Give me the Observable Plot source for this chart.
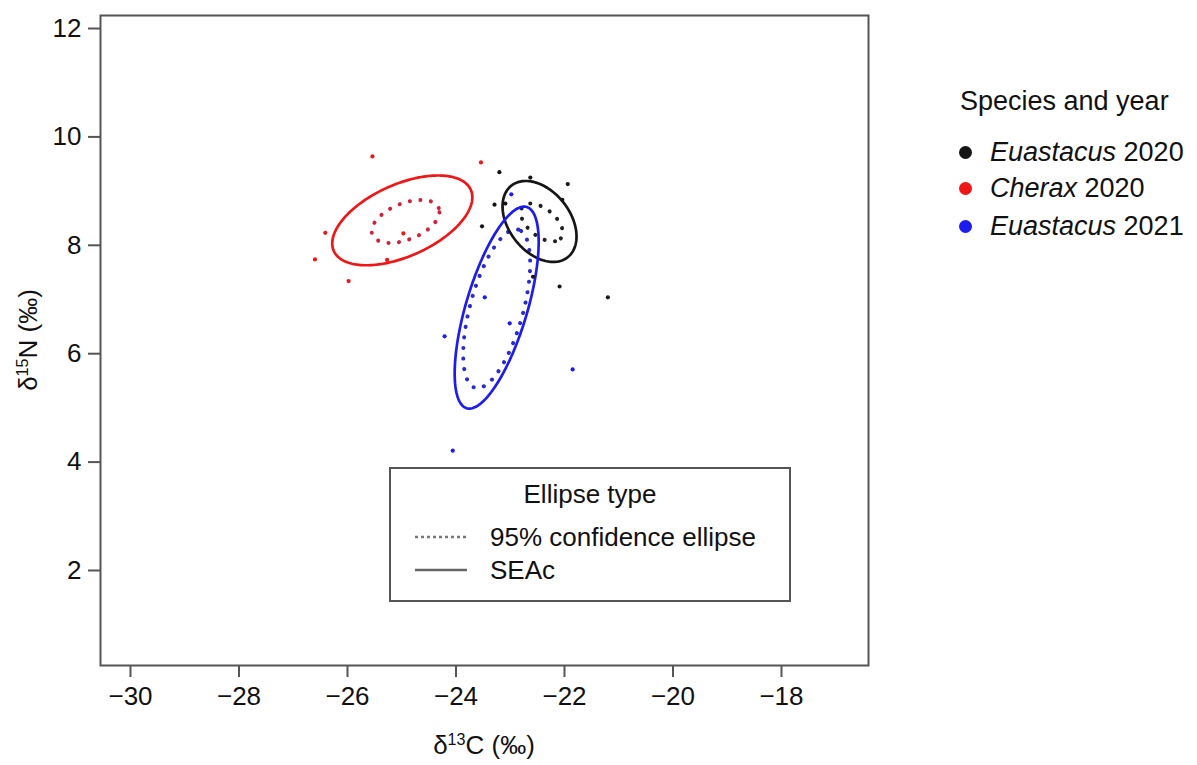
<!DOCTYPE html>
<html><head><meta charset="utf-8">
<script src="https://cdn.jsdelivr.net/npm/d3@7"></script>
<script src="https://cdn.jsdelivr.net/npm/@observablehq/plot@0.6"></script>
<style>
body{margin:0;background:#fff;font-family:"Liberation Sans",Arial,sans-serif;color:#111;}
#wrap{position:relative;width:1197px;height:765px;overflow:hidden;}
.abs{position:absolute;white-space:nowrap;line-height:1;}
.lab{font-size:26px;}
.leg{font-size:27px;}
.sw{position:absolute;width:13px;height:13px;border-radius:50%;}
#box{position:absolute;left:389px;top:467px;width:402px;height:135px;border:2px solid #555;box-sizing:border-box;background:#fff;}
#box .t{font-size:26px;position:absolute;white-space:nowrap;line-height:1;}
sup{font-size:62%;vertical-align:0;position:relative;top:-0.55em;}
</style></head><body><div id="wrap"></div>
<script>
// ---- data ----
const groups = ["Euastacus 2020", "Cherax 2020", "Euastacus 2021"];
const groupColors = ["#151515", "#ee1616", "#1c1cf0"];
const ciColors = ["#202020", "#d0203a", "#2a2ad0"];

const euas2020X = [-23.20, -22.63, -21.94, -23.29, -23.52, -22.58, -22.09, -21.20, -23.09, -22.04];
const euas2020Y = [9.35, 9.25, 9.13, 8.75, 8.35, 7.42, 7.24, 7.04, 8.77, 8.84];
const cherax2020X = [-25.54, -23.54, -26.41, -26.60, -25.98, -25.27, -24.97];
const cherax2020Y = [9.64, 9.53, 8.23, 7.74, 7.34, 7.73, 8.22];
const euas2021X = [-24.21, -21.85, -24.06, -22.98, -23.47, -23.01];
const euas2021Y = [6.32, 5.71, 4.21, 8.94, 7.04, 6.56];

// SEAc ellipses (solid): centre, semi-axes, rotation (deg)
const seacCx = [-22.46, -24.99, -23.25];
const seacCy = [8.44, 8.46, 6.85];
const seacA = [0.84, 1.383, 1.937];
const seacB = [0.563, 0.664, 0.565];
const seacAngle = [-51.9, 24.1, 73.4];
// 95% confidence ellipses (dotted)
const ciCx = [-22.42, -24.93, -23.25];
const ciCy = [8.42, 8.44, 6.83];
const ciA = [0.457, 0.66, 1.513];
const ciB = [0.252, 0.335, 0.49];
const ciAngle = [-39.6, 22, 74.8];

const xTicks = [-30, -28, -26, -24, -22, -20, -18];
const yTicks = [2, 4, 6, 8, 10, 12];

// ---- build tables ----
const points = [];
[[euas2020X, euas2020Y], [cherax2020X, cherax2020Y], [euas2021X, euas2021Y]].forEach(([xs, ys], i) => {
  xs.forEach((x, j) => points.push({group: groups[i], x, y: ys[j]}));
});
function ellipse(g, cx, cy, a, b, deg) {
  const t = deg * Math.PI / 180;
  return d3.range(0, 361, 2).map(d => {
    const s = d * Math.PI / 180;
    return {group: g,
      x: cx + a * Math.cos(s) * Math.cos(t) - b * Math.sin(s) * Math.sin(t),
      y: cy + a * Math.cos(s) * Math.sin(t) + b * Math.sin(s) * Math.cos(t)};
  });
}
const seac = groups.flatMap((g, i) => ellipse(g, seacCx[i], seacCy[i], seacA[i], seacB[i], seacAngle[i]));
const ci = groups.flatMap((g, i) => ellipse(g, ciCx[i], ciCy[i], ciA[i], ciB[i], ciAngle[i]));
const ciColorOf = Object.fromEntries(groups.map((g, i) => [g, ciColors[i]]));

const chart = Plot.plot({
  width: 1197, height: 765,
  marginLeft: 100, marginRight: 329, marginTop: 15, marginBottom: 100,
  style: {fontSize: "26px", fontFamily: "'Liberation Sans', Arial, sans-serif", color: "#111", background: "#fff"},
  x: {domain: [-30.553, -16.396]},
  y: {domain: [0.247, 12.24]},
  color: {domain: groups, range: groupColors},
  marks: [
    Plot.line(ci, {x: "x", y: "y", z: "group", stroke: d => ciColorOf[d.group], strokeWidth: 4, strokeDasharray: "0.1,10.5", strokeLinecap: "round"}),
    Plot.line(seac, {x: "x", y: "y", z: "group", stroke: "group", strokeWidth: 2.7}),
    Plot.dot(points, {x: "x", y: "y", fill: "group", r: 2.1}),
    Plot.frame({stroke: "#555", strokeWidth: 2}),
    Plot.axisX({ticks: xTicks, tickSize: 12, tickPadding: 9, stroke: "#555", strokeWidth: 2, label: null}),
    Plot.axisY({ticks: yTicks, tickSize: 12, tickPadding: 7, stroke: "#555", strokeWidth: 2, label: null})
  ]
});
const wrap = document.getElementById("wrap");
wrap.appendChild(chart);

function addAbs(html, css, cls) {
  const d = document.createElement("div");
  d.className = "abs " + (cls || "");
  d.innerHTML = html;
  Object.assign(d.style, css);
  wrap.appendChild(d);
  return d;
}
// axis labels
addAbs("δ<sup>13</sup>C (‰)", {left: "484px", top: "745px", transform: "translate(-50%,-50%)"}, "lab");
addAbs("δ<sup>15</sup>N (‰)", {left: "28px", top: "340px", transform: "translate(-50%,-50%) rotate(-90deg)"}, "lab");

// species legend
addAbs("Species and year", {left: "960px", top: "101px", transform: "translateY(-50%)"}, "leg");
const legY = [152, 188, 226];
const legHtml = ["<i>Euastacus</i> 2020", "<i>Cherax</i> 2020", "<i>Euastacus</i> 2021"];
groups.forEach((g, i) => {
  const s = document.createElement("div");
  s.className = "sw";
  Object.assign(s.style, {left: (965 - 6.5) + "px", top: (legY[i] - 6.5) + "px", background: groupColors[i]});
  wrap.appendChild(s);
  addAbs(legHtml[i], {left: "990px", top: legY[i] + "px", transform: "translateY(-50%)"}, "leg");
});

// ellipse type legend box
const box = document.createElement("div");
box.id = "box";
box.innerHTML = `
  <div class="t" style="left:199px;top:25px;transform:translate(-50%,-50%)">Ellipse type</div>
  <svg style="position:absolute;left:22px;top:58px" width="56" height="50">
    <line x1="2" x2="54" y1="10" y2="10" stroke="#777" stroke-width="2.5" stroke-dasharray="3,3"/>
    <line x1="2" x2="54" y1="43" y2="43" stroke="#666" stroke-width="2.5"/>
  </svg>
  <div class="t" style="left:99px;top:68px;transform:translateY(-50%)">95% confidence ellipse</div>
  <div class="t" style="left:99px;top:101px;transform:translateY(-50%)">SEAc</div>`;
wrap.appendChild(box);
</script>
</body></html>
